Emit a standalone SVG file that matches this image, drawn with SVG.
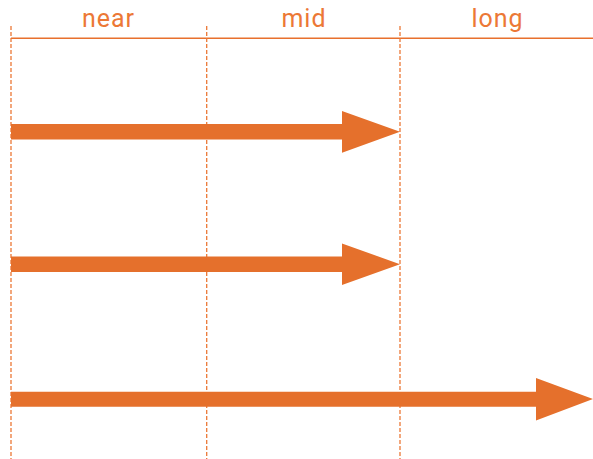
<svg xmlns="http://www.w3.org/2000/svg" width="593" height="459" viewBox="0 0 593 459">
<style>
.lbl{font-family:Roboto,"Liberation Sans",sans-serif;font-size:25px;letter-spacing:1px;fill:#EC7836;text-anchor:middle}
.grid{stroke:#EC7836;stroke-width:1.3;stroke-dasharray:4 2;fill:none}
.axis{stroke:#E8702D;stroke-width:1.5;fill:none}
.arrow{fill:#E5702C}
</style>
<rect width="593" height="459" fill="#ffffff"/>
<g id="header">
<line class="axis" x1="11" y1="38.3" x2="593" y2="38.3"/>
<text class="lbl" x="108.5" y="27">near</text>
<text class="lbl" x="304" y="27">mid</text>
<text class="lbl" x="497.5" y="27">long</text>
</g>
<g id="gridlines">
<line class="grid" x1="11" y1="26" x2="11" y2="459"/>
<line class="grid" x1="206.7" y1="26" x2="206.7" y2="459"/>
<line class="grid" x1="400" y1="26" x2="400" y2="459"/>
</g>
<g id="connectors">
<polygon class="arrow" points="11,124 342,124 342,111 400,131.7 342,152.7 342,139.5 11,139.5"/>
<polygon class="arrow" points="11,256.5 342,256.5 342,243.5 400,264.2 342,285 342,272 11,272"/>
<polygon class="arrow" points="11,391.7 536,391.7 536,378 593,399 536,420.5 536,406.7 11,406.7"/>
</g>
</svg>
